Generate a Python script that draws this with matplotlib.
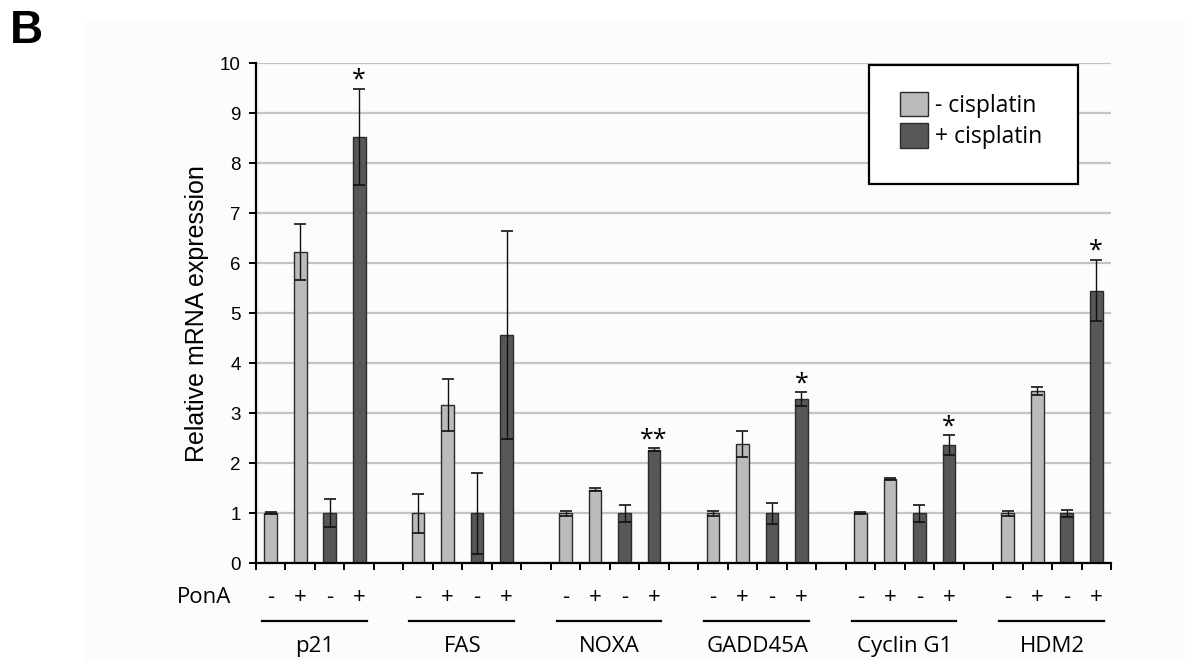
import numpy as np
import matplotlib
matplotlib.use('Agg')
import matplotlib.pyplot as plt
from matplotlib.patches import Rectangle, Patch

# data
genes = ['p21', 'FAS', 'NOXA', 'GADD45A', 'Cyclin G1', 'HDM2']
pona = ['-', '+', '-', '+']
minus_cis = [1.00, 6.23, 1.00, 3.16, 1.00, 1.47, 1.00, 2.39, 1.00, 1.68, 1.00, 3.45]
minus_cis_err = [0.02, 0.56, 0.39, 0.52, 0.05, 0.03, 0.05, 0.26, 0.02, 0.02, 0.05, 0.08]
plus_cis = [1.00, 8.52, 1.00, 4.56, 1.00, 2.27, 1.00, 3.28, 1.00, 2.36, 1.00, 5.45]
plus_cis_err = [0.28, 0.96, 0.81, 2.08, 0.17, 0.03, 0.21, 0.14, 0.17, 0.20, 0.07, 0.61]
stars = ['', '*', '', '', '', '**', '', '*', '', '*', '', '*']  # on +cis bars

light = '#bbbbbb'
dark = '#575757'
edge = '#2b2b2b'

plt.rcParams['font.family'] = ['Liberation Sans', 'DejaVu Sans']
side_font = ['Open Sans', 'DejaVu Sans']

fig = plt.figure(figsize=(11.99, 6.61), dpi=100)
fig.patches.append(Rectangle((85 / 1199, 0), 1099 / 1199, 639 / 661,
                             transform=fig.transFigure, color='#fcfcfc', zorder=-10))
ax = fig.add_axes([256 / 1199, 97.7 / 661, 855 / 1199, 500.3 / 661])
ax.set_facecolor('none')

# x positions: 4 bars per gene, one empty slot between genes
x_minus = []
x_plus = []
for g in range(len(genes)):
    x_minus += [5 * g, 5 * g + 1]
    x_plus += [5 * g + 2, 5 * g + 3]
x_minus = np.array(x_minus)
x_plus = np.array(x_plus)

w = 0.43
ax.bar(x_minus, minus_cis, w, color=light, edgecolor=edge, linewidth=1, zorder=3)
ax.bar(x_plus, plus_cis, w, color=dark, edgecolor=edge, linewidth=1, zorder=3)
ax.errorbar(x_minus, minus_cis, yerr=minus_cis_err, fmt='none', ecolor='#111111',
            elinewidth=1, capsize=4.3, capthick=1.2, zorder=4)
ax.errorbar(x_plus, plus_cis, yerr=plus_cis_err, fmt='none', ecolor='#111111',
            elinewidth=1, capsize=4.3, capthick=1.2, zorder=4)

for xp, v, e, s in zip(x_plus, plus_cis, plus_cis_err, stars):
    if s:
        ax.annotate(s, (xp, v + e), xytext=(0, 1.5), textcoords='offset points',
                    ha='center', va='baseline', fontsize=18, family=side_font)

ax.set_xlim(-0.5, 28.5)
ax.set_ylim(0, 10)
ax.set_yticks(range(0, 11))
ax.set_xticks(np.arange(-0.5, 29, 1))
ax.set_xticklabels([])
ax.yaxis.grid(True, color='#c4c4c4', linewidth=1.6, zorder=0)
ax.set_axisbelow(True)
for s in ['top', 'right']:
    ax.spines[s].set_visible(False)
for s in ['left', 'bottom']:
    ax.spines[s].set_linewidth(1.6)
    ax.spines[s].set_zorder(5)
ax.tick_params(axis='both', direction='out', length=5, width=1.4, colors='black')
ax.tick_params(axis='y', labelsize=13.5, pad=6)
ax.set_ylabel('Relative mRNA expression', fontsize=18, labelpad=8)

# PonA row, gene lines and names under the axis
tr = ax.get_xaxis_transform()
ax.text(-1.35, -0.069, 'PonA', transform=tr, ha='right', va='center',
        fontsize=16, family=side_font)
for g, name in enumerate(genes):
    xs = 5 * g + np.arange(4)
    for xi, p in zip(xs, pona):
        ax.text(xi, -0.069, p, transform=tr, ha='center', va='center',
                fontsize=16, family=side_font)
    ax.plot([xs[0] - 0.3, xs[-1] + 0.25], [-0.115, -0.115], transform=tr,
            color='black', linewidth=1.6, clip_on=False)
    ax.text(xs.mean(), -0.167, name, transform=tr, ha='center', va='center',
            fontsize=16, family=side_font)

# legend with square frame
ax.add_patch(Rectangle((869 / 1199, 477 / 661), 209 / 1199, 119 / 661,
                       transform=fig.transFigure, facecolor='white',
                       edgecolor='black', linewidth=1.6, zorder=6, clip_on=False))
handles = [Patch(facecolor=light, edgecolor=edge), Patch(facecolor=dark, edgecolor=edge)]
leg = ax.legend(handles, ['- cisplatin', '+ cisplatin'], loc='center',
                bbox_to_anchor=(971 / 1199, 540.5 / 661), bbox_transform=fig.transFigure,
                frameon=False, handlelength=1.25, handleheight=1.25, handletextpad=0.3,
                labelspacing=0.25, prop={'family': side_font, 'size': 16.5})
leg.set_zorder(7)

fig.text(10 / 1199, 1 - 43 / 661, 'B', fontsize=33, fontweight='bold', ha='left', va='baseline')

fig.savefig('out.png', dpi=100)
